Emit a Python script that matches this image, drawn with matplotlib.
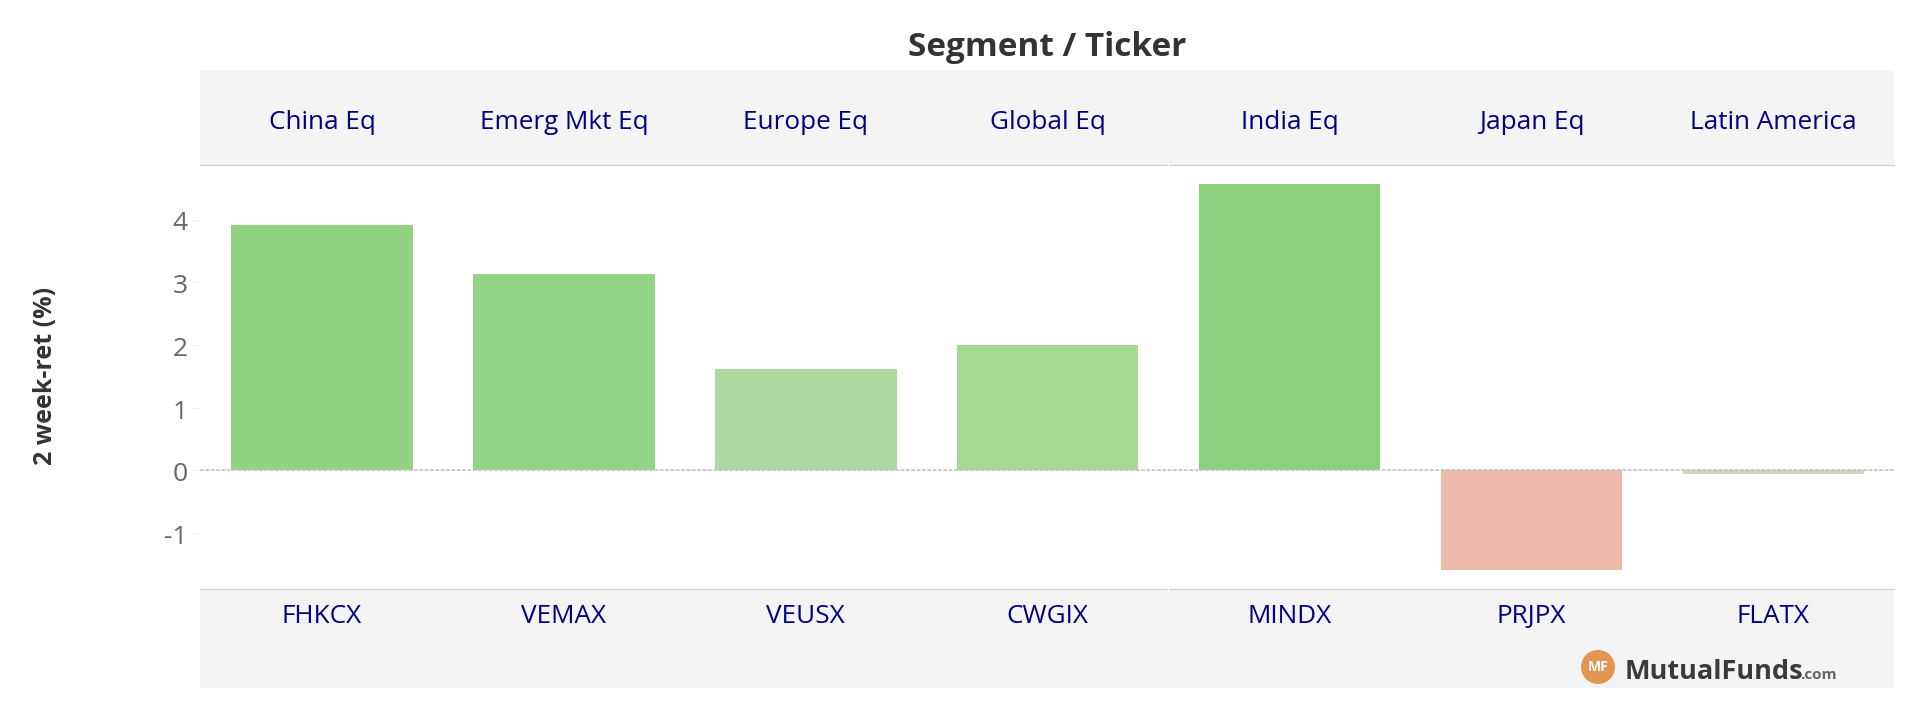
import matplotlib
matplotlib.use('Agg')
import matplotlib.pyplot as plt
from matplotlib.lines import Line2D
from matplotlib.patches import Circle
from matplotlib.transforms import ScaledTranslation

W, H = 1909, 704

segments = ['China Eq', 'Emerg Mkt Eq', 'Europe Eq', 'Global Eq', 'India Eq', 'Japan Eq', 'Latin America']
tickers = ['FHKCX', 'VEMAX', 'VEUSX', 'CWGIX', 'MINDX', 'PRJPX', 'FLATX']
returns = [3.92, 3.13, 1.62, 2.00, 4.57, -1.59, -0.06]
y_ticks = [-1, 0, 1, 2, 3, 4]

bar_colors = ['#91D283', '#92D385', '#ADD89F', '#A6D994', '#8BD07D', '#EEBAAB', '#CFD6C0']

plt.rcParams['font.family'] = ['Open Sans', 'DejaVu Sans']
plt.rcParams['axes.unicode_minus'] = False
NAVY = '#000080'
BAND = '#F4F4F4'
RULE = '#CCCCCC'


# Pixel box (origin top left) to a figure axes
def px_axes(fig, left, top, right, bottom):
    return fig.add_axes([left / W, 1 - bottom / H, (right - left) / W, (bottom - top) / H])


fig = plt.figure(figsize=(W / 100, H / 100), dpi=100)

LEFT, RIGHT = 200, 1894
TOP_BAND, PLOT_TOP, PLOT_BOTTOM, BOTTOM_BAND = 70, 165, 589, 688
ZERO_Y, UNIT = 470.3, 62.7
FIRST_CENTER, STEP = 322, 241.9

# Main panel
ax = px_axes(fig, LEFT, PLOT_TOP, RIGHT, PLOT_BOTTOM)
ax.set_xlim((LEFT - FIRST_CENTER) / STEP, (RIGHT - FIRST_CENTER) / STEP)
ax.set_ylim((ZERO_Y - PLOT_BOTTOM) / UNIT, (ZERO_Y - PLOT_TOP) / UNIT)
ax.bar(range(len(tickers)), returns, width=0.75, color=bar_colors, linewidth=0, zorder=2)
ax.axhline(0, color='#BDBDBD', lw=1.1, ls=(0, (2.5, 1)), zorder=3)
for side in ax.spines.values():
    side.set_visible(False)
ax.set_xticks([])
ax.set_yticks(y_ticks)
ax.tick_params(axis='y', length=5, width=0.8, color='#EEEEEE', labelcolor='#666666', labelsize=19, pad=4)
# Tick labels sit a touch below their ticks
nudge = ScaledTranslation(0, -1.5 / 100, fig.dpi_scale_trans)
for lab in ax.get_yticklabels():
    lab.set_transform(lab.get_transform() + nudge)
fig.text(46 / W, 1 - 375.5 / H, '2 week-ret (%)', rotation=90, ha='center', va='center',
         fontsize=18, fontweight='bold', color='#333333')

# Header and footer bands
top = px_axes(fig, LEFT, TOP_BAND, RIGHT, PLOT_TOP)
bottom = px_axes(fig, LEFT, PLOT_BOTTOM, RIGHT, BOTTOM_BAND)
for band, labels, y in [(top, segments, 0.445), (bottom, tickers, 0.725)]:
    band.set_facecolor(BAND)
    band.set_xlim((LEFT - FIRST_CENTER) / STEP, (RIGHT - FIRST_CENTER) / STEP)
    band.set_ylim(0, 1)
    band.set_xticks([])
    band.set_yticks([])
    for side in band.spines.values():
        side.set_visible(False)
    for i, label in enumerate(labels):
        band.text(i, y, label, ha='center', va='center', color=NAVY, fontsize=18.8)
top.spines['bottom'].set_visible(True)
top.spines['bottom'].set_color(RULE)
bottom.spines['top'].set_visible(True)
bottom.spines['top'].set_color(RULE)

# Small white breaks in the rules between the India and Global columns
for rule_y in (PLOT_TOP, PLOT_BOTTOM):
    fig.add_artist(Line2D([1167.5, 1167.5], [H - rule_y - 2, H - rule_y + 2], transform=None, color='white', lw=0.8))

fig.text(1047 / W, 1 - 47.5 / H, 'Segment / Ticker', ha='center', va='center',
         fontsize=24, fontweight='bold', color='#333333')

# Site logo in the footer
fig.add_artist(Circle((1598, H - 667), 17, transform=None, facecolor='#E39652', edgecolor='none'))
fig.text(1598 / W, 1 - 667 / H, 'MF', ha='center', va='center', color='white', fontsize=10, fontweight='bold')
fig.text(1625 / W, 1 - 679 / H, 'MutualFunds', ha='left', va='baseline', color='#3A3A3A',
         fontsize=19.5, fontweight='bold')
fig.text(1837 / W, 1 - 679 / H, '.com', ha='right', va='baseline', color='#666666', fontsize=11, fontweight='bold')

fig.savefig('out.png', dpi=100)
